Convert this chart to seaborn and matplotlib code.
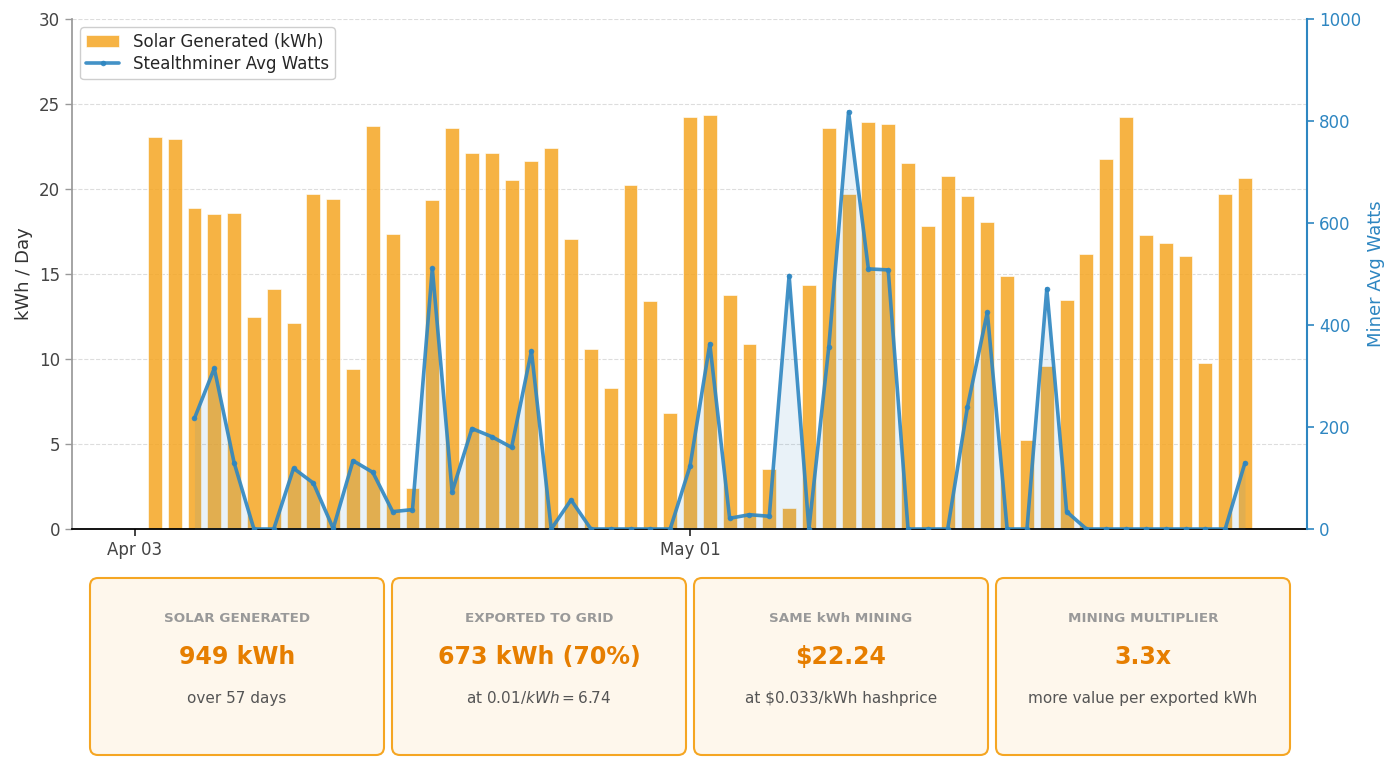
import numpy as np
import pandas as pd
import matplotlib
matplotlib.use("Agg")
import matplotlib.pyplot as plt
import matplotlib.dates as mdates
from matplotlib.patches import FancyBboxPatch
import seaborn as sns

# Dati giornalieri (Apr 03 -> May 29)
start_date = "2025-04-03"
solar_kwh = [0.0,
             23.05, 22.96, 18.90, 18.55, 18.57, 12.48, 14.10, 12.14, 19.73, 19.43,
             9.39, 23.70, 17.37, 2.42, 19.37, 23.59, 22.10, 22.14, 20.55, 21.62,
             22.44, 17.08, 10.57, 8.30, 20.23, 13.40, 6.81, 24.24, 24.35, 13.78,
             10.88, 3.51, 1.24, 14.35, 23.61, 19.68, 23.93, 23.82, 21.51, 17.84,
             20.76, 19.58, 18.05, 14.87, 5.23, 9.60, 13.47, 16.16, 21.74, 24.22,
             17.31, 16.85, 16.03, 9.77, 19.73, 20.65]
miner_watts = [np.nan, np.nan, np.nan,
               217, 315, 130, 0, 0, 119, 90, 1, 134, 111, 34, 38, 511, 73, 197, 181,
               160, 349, 0, 57, 0, 0, 0, 0, 0, 123, 363, 21, 28, 25, 497, 0, 356,
               818, 510, 508, 0, 0, 0, 240, 425, 0, 0, 471, 34, 0, 0, 0, 0, 0, 0,
               0, 0, 130]
xtick_dates = ["2025-04-03", "2025-05-01"]

# Schede riassuntive
card_titles = ["SOLAR GENERATED", "EXPORTED TO GRID", "SAME kWh MINING", "MINING MULTIPLIER"]
card_values = ["949 kWh", "673 kWh (70%)", "$22.24", "3.3x"]
card_subs = ["over 57 days", "at $0.01/kWh = $6.74", "at \\$0.033/kWh hashprice",
             "more value per exported kWh"]

dates = pd.date_range(start_date, periods=len(solar_kwh), freq="D")
df = pd.DataFrame({"date": dates, "solar": solar_kwh, "watts": miner_watts})

sns.set_theme(style="white")
plt.rcParams["font.family"] = ["DejaVu Sans"]

bar_color = "#F5A623"
line_color = "#2E86C1"

fig = plt.figure(figsize=(14, 7.69), dpi=100)
ax = fig.add_axes([0.0514, 0.3121, 0.8822, 0.6632])
ax2 = ax.twinx()

# Barre
ax.bar(df["date"], df["solar"], width=0.7, color=bar_color, alpha=0.85,
       edgecolor="white", linewidth=0.5, label="Solar Generated (kWh)", zorder=2)

# Linea miner
sns.lineplot(data=df, x="date", y="watts", ax=ax2, color=line_color, linewidth=2.6,
             marker="o", markersize=4, markeredgewidth=0, alpha=0.9,
             label="Stealthminer Avg Watts", legend=False)
valid = df["watts"].notna()
ax2.fill_between(df["date"][valid], 0, df["watts"][valid], color=line_color,
                 alpha=0.1, linewidth=0)

# Assi
ax.set_ylim(0, 30)
ax.set_yticks(range(0, 31, 5))
ax2.set_ylim(0, 1000)
ax2.set_yticks(range(0, 1001, 200))
t0 = pd.Timestamp(start_date)
ax.set_xlim(t0 - pd.Timedelta(days=3.18), t0 + pd.Timedelta(days=59.13))
ax.set_xticks(pd.to_datetime(xtick_dates))
ax.xaxis.set_major_formatter(mdates.DateFormatter("%b %d"))

ax.grid(True, axis="y", linestyle="--", color="#dddddd", linewidth=0.8, zorder=0)
ax.set_axisbelow(True)
ax.set_xlabel("")
ax.set_ylabel("kWh / Day", fontsize=13, color="#333333")
ax2.set_xlabel("")
ax2.set_ylabel("Miner Avg Watts", fontsize=13, color=line_color)

ax.tick_params(axis="y", colors="#444444", labelsize=12, length=5, width=1,
               left=True, color="#999999")
ax.tick_params(axis="x", colors="#444444", labelsize=12, length=5, width=1.2,
               bottom=True, color="#222222")
ax2.tick_params(axis="y", colors=line_color, labelsize=12, length=5, width=1.2, right=True)

for a in (ax, ax2):
    a.spines["top"].set_visible(False)
ax.spines["right"].set_visible(False)
ax.spines["left"].set_color("#999999")
ax.spines["bottom"].set_color("black")
ax.spines["bottom"].set_linewidth(1.3)
ax2.spines["left"].set_visible(False)
ax2.spines["bottom"].set_visible(False)
ax2.spines["right"].set_color(line_color)
ax2.spines["right"].set_linewidth(1.5)

# Legenda combinata
h1, l1 = ax.get_legend_handles_labels()
h2, l2 = ax2.get_legend_handles_labels()
leg = ax2.legend(h1 + h2, l1 + l2, loc="upper left", fontsize=12, frameon=True,
                 framealpha=0.95, edgecolor="#cccccc", borderaxespad=0.5,
                 labelspacing=0.25, borderpad=0.35)

# Schede in basso (coordinate in pixel)
ov = fig.add_axes([0, 0, 1, 1])
ov.set_xlim(0, 1400)
ov.set_ylim(769, 0)
ov.axis("off")
card_w, card_h, gap, x0, y0 = 294, 177, 8, 90, 578
for i in range(len(card_titles)):
    cx = x0 + i * (card_w + gap)
    ov.add_patch(FancyBboxPatch((cx + 8, y0 + 8), card_w - 16, card_h - 16,
                                boxstyle="round,pad=8", facecolor="#FEF7EC",
                                edgecolor="#F5A623", linewidth=1.5))
    mid = cx + card_w / 2
    ov.text(mid, 618, card_titles[i], ha="center", va="center", fontsize=9.7,
            fontweight="bold", color="#999999")
    ov.text(mid, 657, card_values[i].replace("$", "\\$"), ha="center", va="center",
            fontsize=17, fontweight="bold", color="#E67E00")
    ov.text(mid, 698, card_subs[i], ha="center", va="center", fontsize=11,
            color="#555555")

fig.savefig("out.png", dpi=100)
